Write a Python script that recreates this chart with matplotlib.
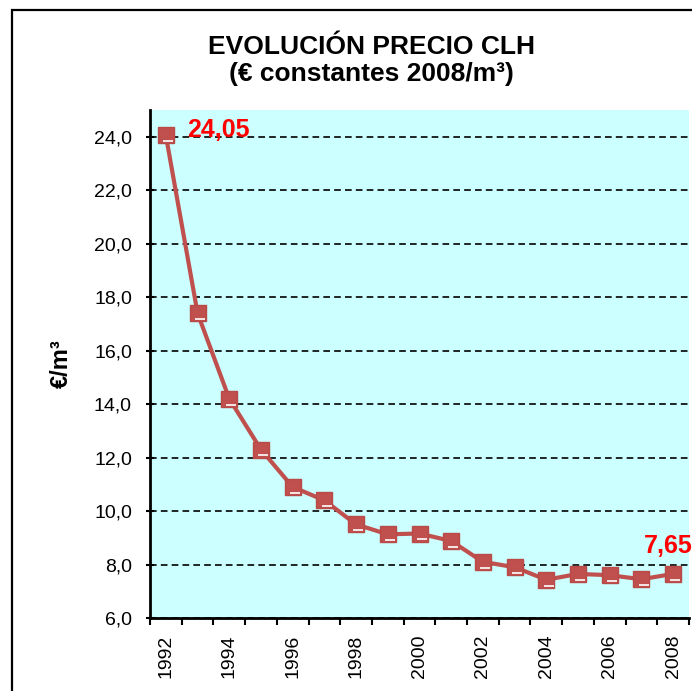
import matplotlib
matplotlib.use("Agg")
import matplotlib.pyplot as plt
from matplotlib.patches import Rectangle
import numpy as np

plt.rcParams['font.family'] = ['Liberation Sans', 'DejaVu Sans']

years = list(range(1992, 2009))
prices = [24.05, 17.4, 14.2, 12.3, 10.9, 10.4, 9.5, 9.13, 9.16, 8.88,
          8.1, 7.9, 7.43, 7.65, 7.6, 7.45, 7.65]
ytick_vals = [6, 8, 10, 12, 14, 16, 18, 20, 22, 24]
ytick_labels = ["6,0", "8,0", "10,0", "12,0", "14,0", "16,0", "18,0", "20,0", "22,0", "24,0"]
label_first = "24,05"
label_last = "7,65"

W, H = 692, 691
fig = plt.figure(figsize=(W / 100, H / 100), dpi=100)
fig.patch.set_facecolor("white")

# outer chart border (extends beyond image on right/bottom)
fig.patches.append(Rectangle((12 / W, -0.05), 1.1, 1 - 10 / H + 0.05,
                             transform=fig.transFigure, fill=False,
                             edgecolor="black", linewidth=1.6))

ax = fig.add_axes([150 / W, 1 - 618 / H, (689 - 150) / W, (618 - 110) / H])
ax.set_facecolor("#CCFFFF")

x = np.arange(len(years))
color = "#C0504D"
ax.plot(x, prices, color=color, linewidth=3, zorder=3)
ax.plot(x, prices, linestyle="none", marker="s", markersize=11,
        markerfacecolor=color, markeredgecolor="#B84A47", markeredgewidth=1,
        zorder=4)
# white highlight on markers (Excel bevel effect)
ax.plot(x + 0.07, np.array(prices) - 0.22, linestyle="none", marker="_",
        markersize=7, markeredgecolor="white", markeredgewidth=1.2, zorder=5)

ax.set_xlim(-0.5, len(years) - 0.5)
ax.set_ylim(6, 25)

ax.set_yticks(ytick_vals)
ax.set_yticklabels(ytick_labels, fontsize=14)
ax.yaxis.grid(True, linestyle=(0, (4, 2.5)), color="black", linewidth=1.2)
ax.set_axisbelow(True)

major_pos = x[::2]
ax.set_xticks(major_pos)
ax.set_xticklabels([str(y) for y in years[::2]], rotation=90, fontsize=14)
ax.set_xticks(np.arange(-0.5, len(years)), minor=True)
ax.tick_params(axis="x", which="major", length=0, pad=12)
ax.tick_params(axis="x", which="minor", length=5, width=1.5, direction="out")
ax.tick_params(axis="y", which="major", length=6, width=1.5, direction="inout", pad=10)

for side in ("top", "right"):
    ax.spines[side].set_visible(False)
for side in ("left", "bottom"):
    ax.spines[side].set_linewidth(2)
    ax.spines[side].set_color("black")

ax.set_ylabel("€/m³", fontsize=17, fontweight="bold", labelpad=15)

ax.annotate(label_first, (x[0], prices[0]), xytext=(15, 4), textcoords="offset points",
            ha="left", va="center", color="red", fontsize=18, fontweight="bold",
            annotation_clip=False)
ax.annotate(label_last, (x[-1], prices[-1]), xytext=(-21, 20), textcoords="offset points",
            ha="left", va="center", color="red", fontsize=18, fontweight="bold",
            annotation_clip=False)

fig.text(371 / W, 1 - 47 / H, "EVOLUCIÓN PRECIO CLH", ha="center", va="center",
         fontsize=19, fontweight="bold")
fig.text(371 / W, 1 - 74 / H, "(€ constantes 2008/m³)", ha="center", va="center",
         fontsize=19, fontweight="bold")

fig.savefig("out.png", dpi=100, facecolor="white")
